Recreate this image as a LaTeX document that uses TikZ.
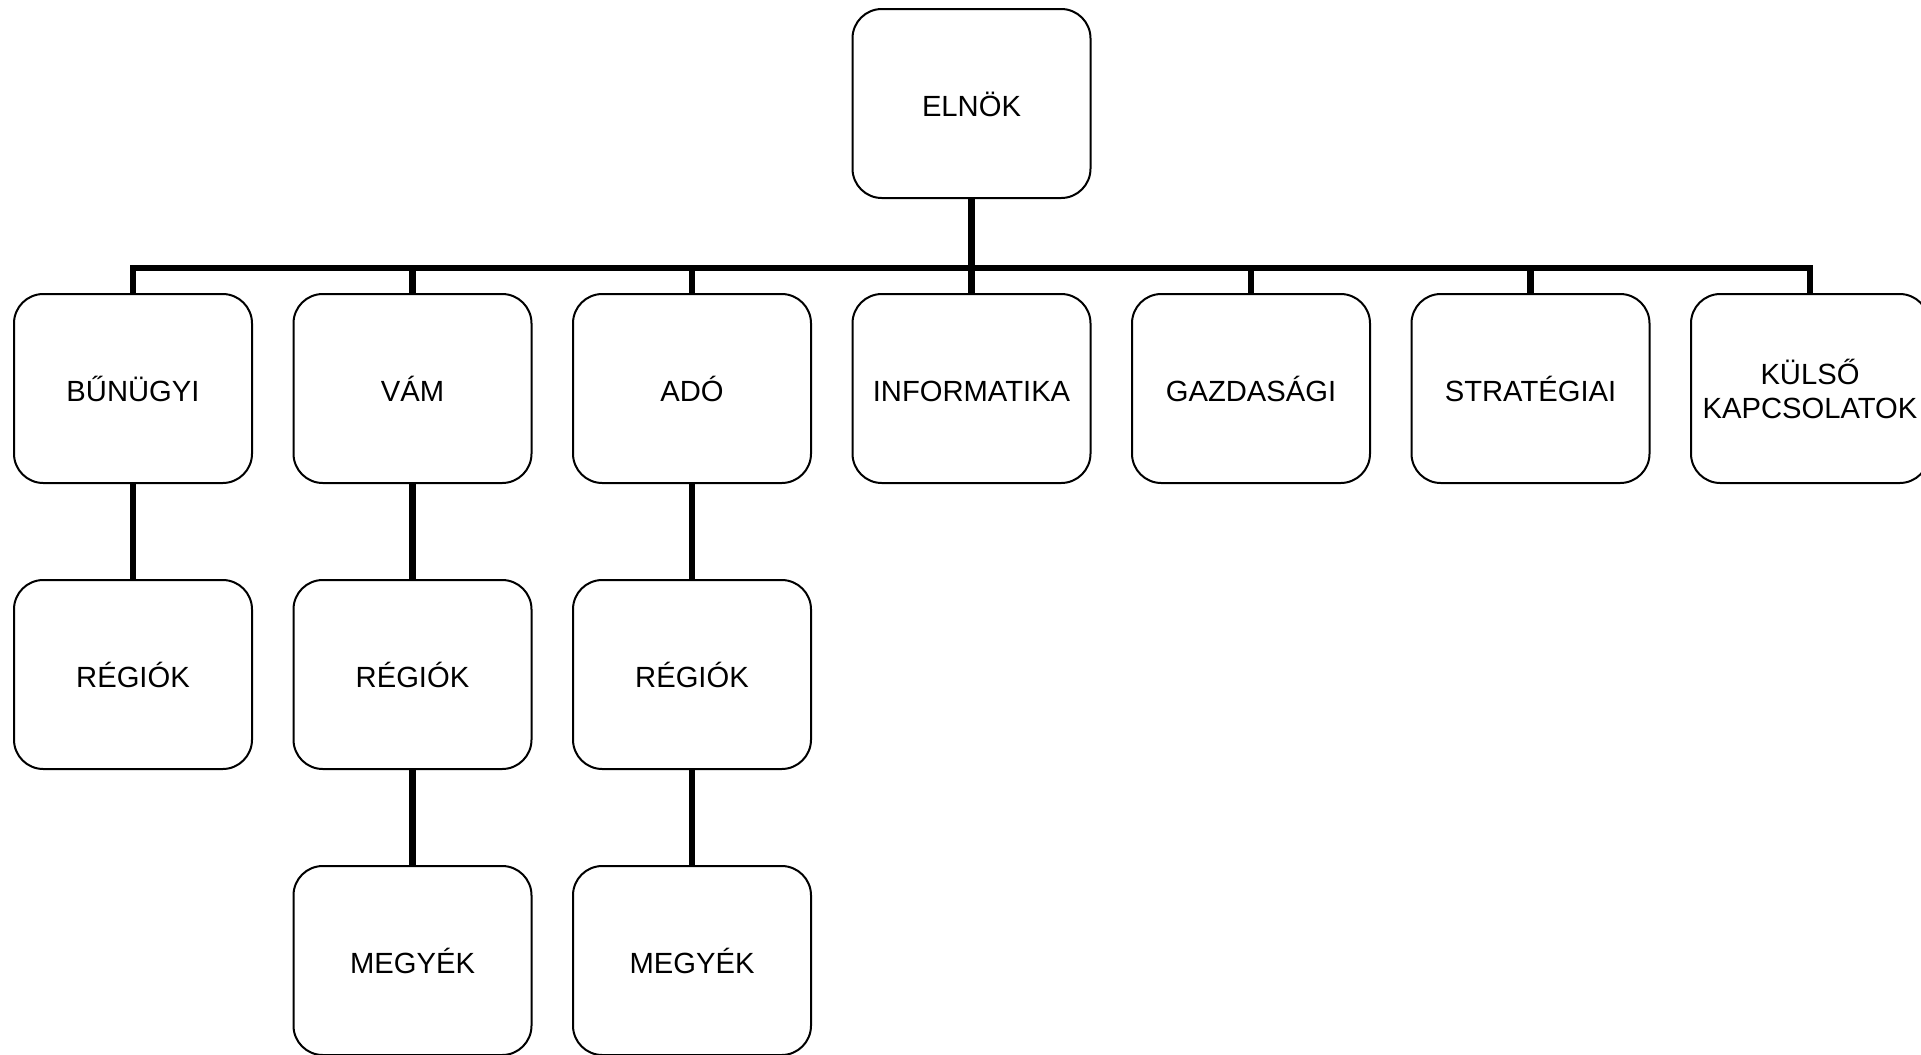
\documentclass[tikz,border=0pt]{standalone}
\usepackage{fontspec}
\setmainfont{Liberation Sans}
\begin{document}
\begin{tikzpicture}[x=0.75pt,y=-0.75pt,
  box/.style={draw=black,line width=1.5pt,rounded corners=22pt,fill=white,
    minimum width=178.5pt,minimum height=141.75pt,inner sep=0pt,
    font=\fontsize{21.9}{25.5}\selectfont},
  onebox/.style={box,text height=19pt,text depth=0pt},
  twobox/.style={box,align=center},
  conn/.style={draw=black,line width=4.8pt,line join=miter,line cap=butt}]
\useasboundingbox[fill=white] (0,0) rectangle (1921,1054);
\node[onebox] (top) at (971.5,103.5) {ELNÖK};
\node[onebox] (b1) at (133,388.5) {BŰNÜGYI};
\node[onebox] (b2) at (412.5,388.5) {VÁM};
\node[onebox] (b3) at (692,388.5) {ADÓ};
\node[onebox] (b4) at (971.5,388.5) {INFORMATIKA};
\node[onebox] (b5) at (1251,388.5) {GAZDASÁGI};
\node[onebox] (b6) at (1530.5,388.5) {STRATÉGIAI};
\node[twobox] (b7) at (1810,388.5) {KÜLSŐ\\KAPCSOLATOK};
\node[onebox] (r1) at (133,674.5) {RÉGIÓK};
\node[onebox] (r2) at (412.5,674.5) {RÉGIÓK};
\node[onebox] (r3) at (692,674.5) {RÉGIÓK};
\node[onebox] (m2) at (412.5,960.5) {MEGYÉK};
\node[onebox] (m3) at (692,960.5) {MEGYÉK};
\coordinate (bus) at (971.5,268);
\draw[conn] (b1.north) |- (bus) -| (b7.north);
\foreach \n in {b2,b3,b5,b6}{\draw[conn] (\n.north) -- (\n.north |- bus);}
\draw[conn] (top.south) -- (b4.north);
\draw[conn] (b1.south) -- (r1.north);
\draw[conn] (b2.south) -- (r2.north);
\draw[conn] (b3.south) -- (r3.north);
\draw[conn] (r2.south) -- (m2.north);
\draw[conn] (r3.south) -- (m3.north);
\end{tikzpicture}
\end{document}
